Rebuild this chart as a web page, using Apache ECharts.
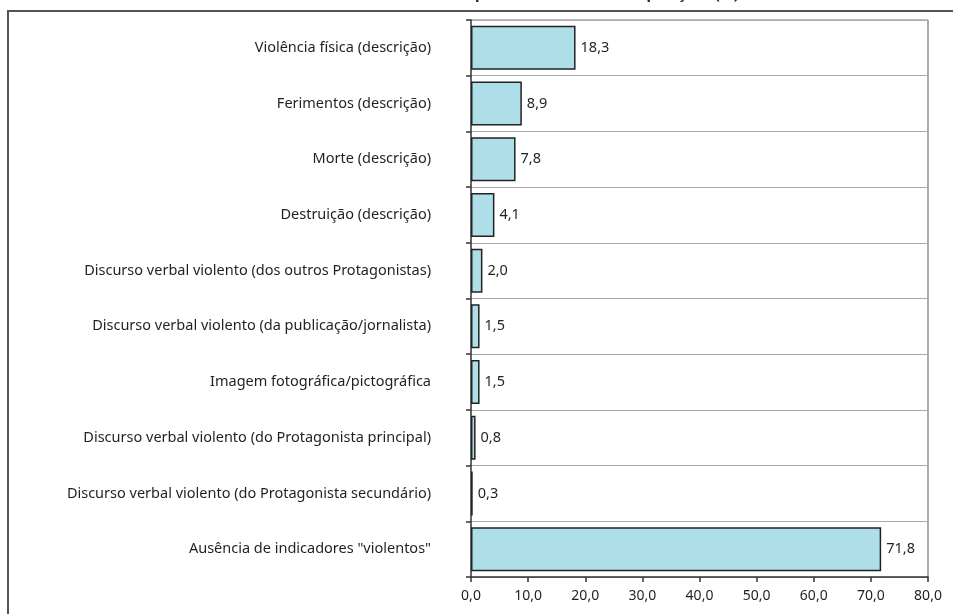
<!DOCTYPE html>
<html>
<head>
<meta charset="utf-8">
<script src="https://cdn.jsdelivr.net/npm/echarts@6/dist/echarts.min.js"></script>
<style>html,body{margin:0;padding:0;background:#fff}#c{width:953px;height:614px}</style>
</head>
<body>
<div id="c"></div>
<script>
const titleText = 'Indicadores de violência presentes em todas as posições (%)';
const categories = [
  'Violência física (descrição)',
  'Ferimentos (descrição)',
  'Morte (descrição)',
  'Destruição (descrição)',
  'Discurso verbal violento (dos outros Protagonistas)',
  'Discurso verbal violento (da publicação/jornalista)',
  'Imagem fotográfica/pictográfica',
  'Discurso verbal violento (do Protagonista principal)',
  'Discurso verbal violento (do Protagonista secundário)',
  'Ausência de indicadores "violentos"'
];
const values = [18.3, 8.9, 7.8, 4.1, 2.0, 1.5, 1.5, 0.8, 0.3, 71.8];
const xMin = 0, xMax = 80, xStep = 10;

const fmt = v => Number(v).toFixed(1).replace('.', ',');
const font = '"Noto Sans", "Open Sans", sans-serif';
const chart = echarts.init(document.getElementById('c'), null, {renderer: 'canvas'});
chart.setOption({
  backgroundColor: '#fff',
  animation: false,
  title: {
    text: titleText, left: 290, top: -14, padding: 0,
    textStyle: {fontFamily: font, fontSize: 15, lineHeight: 18, fontWeight: 'bold', color: '#231f20'}
  },
  graphic: [
    {type: 'rect', shape: {x: 8, y: 11, width: 1100, height: 800}, silent: true,
     style: {fill: null, stroke: '#555', lineWidth: 2}},
    {type: 'line', shape: {x1: 471, y1: 20, x2: 928, y2: 20}, silent: true, z: 0,
     style: {stroke: '#aaa', lineWidth: 1.5}},
    {type: 'line', shape: {x1: 928, y1: 20, x2: 928, y2: 577}, silent: true, z: 0,
     style: {stroke: '#aaa', lineWidth: 2}}
  ],
  grid: {left: 471, right: 25, top: 20, bottom: 37, containLabel: false},
  xAxis: {
    type: 'value', min: xMin, max: xMax, interval: xStep,
    axisLine: {show: true, lineStyle: {color: '#333', width: 1.5}},
    axisTick: {show: true, length: 5, lineStyle: {color: '#333', width: 1.5}},
    splitLine: {show: false},
    axisLabel: {formatter: fmt, color: '#231f20', fontFamily: font, fontSize: 14, margin: 12}
  },
  yAxis: {
    type: 'category', data: categories, inverse: true,
    axisLine: {show: true, lineStyle: {color: '#333', width: 1.5}},
    axisTick: {show: true, length: 5, lineStyle: {color: '#333', width: 1.5}},
    splitLine: {show: true, lineStyle: {color: '#aaa', width: 1}},
    axisLabel: {color: '#231f20', fontFamily: font, fontSize: 14.5, margin: 40}
  },
  series: [{
    type: 'bar', data: values, barWidth: 44,
    itemStyle: {color: '#aedfe8', borderColor: '#222', borderWidth: 1.5},
    label: {show: true, position: 'right', distance: 5, formatter: p => fmt(p.value),
      color: '#231f20', fontFamily: font, fontSize: 14.5}
  }]
});
</script>
</body>
</html>
